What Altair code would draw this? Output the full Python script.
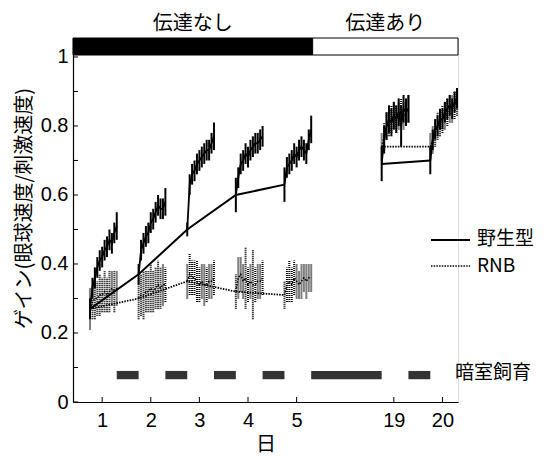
import altair as alt
import pandas as pd

# ---------------- data ----------------
DAY_POS = [1, 2, 3, 4, 5, 7, 8]          # axis positions (break between 5 and 19)
DAY_LABELS = ["1", "2", "3", "4", "5", "19", "20"]
SESSION_START = [0.75, 1.75, 2.75, 3.75, 4.75, 6.75, 7.75]
SESSION_BLOCK = [1, 1, 1, 1, 1, 2, 2]
SESSION_T = [0.00, 0.05, 0.10, 0.15, 0.20, 0.25, 0.30, 0.35, 0.40, 0.45, 0.50, 0.55]

WT_D1 = [0.27, 0.33, 0.36, 0.39, 0.41, 0.42, 0.44, 0.45, 0.47, 0.46, 0.49, 0.51]
WT_D2 = [0.37, 0.44, 0.46, 0.48, 0.49, 0.52, 0.53, 0.55, 0.57, 0.56, 0.56, 0.58]
WT_D3 = [0.50, 0.63, 0.66, 0.67, 0.69, 0.70, 0.71, 0.72, 0.73, 0.73, 0.75, 0.77]
WT_D4 = [0.60, 0.65, 0.69, 0.70, 0.72, 0.71, 0.73, 0.74, 0.75, 0.75, 0.76, 0.77]
WT_D5 = [0.63, 0.68, 0.69, 0.70, 0.72, 0.71, 0.73, 0.74, 0.73, 0.72, 0.76, 0.79]
WT_D19 = [0.69, 0.76, 0.80, 0.82, 0.81, 0.83, 0.82, 0.84, 0.80, 0.85, 0.84, 0.85]
WT_D20 = [0.70, 0.76, 0.79, 0.80, 0.82, 0.82, 0.84, 0.85, 0.86, 0.85, 0.87, 0.88]

WT_E1 = [0.03, 0.03, 0.03, 0.03, 0.03, 0.03, 0.03, 0.03, 0.03, 0.03, 0.03, 0.04]
WT_E2 = [0.03, 0.03, 0.03, 0.03, 0.03, 0.03, 0.03, 0.03, 0.03, 0.03, 0.03, 0.04]
WT_E3 = [0.02, 0.03, 0.03, 0.03, 0.03, 0.03, 0.03, 0.03, 0.03, 0.03, 0.03, 0.04]
WT_E4 = [0.05, 0.03, 0.03, 0.03, 0.03, 0.03, 0.03, 0.03, 0.03, 0.03, 0.03, 0.03]
WT_E5 = [0.05, 0.03, 0.03, 0.03, 0.03, 0.03, 0.03, 0.03, 0.03, 0.03, 0.03, 0.04]
WT_E19 = [0.05, 0.04, 0.04, 0.04, 0.04, 0.04, 0.04, 0.04, 0.06, 0.04, 0.04, 0.04]
WT_E20 = [0.04, 0.03, 0.03, 0.03, 0.03, 0.03, 0.03, 0.03, 0.03, 0.03, 0.03, 0.03]

RNB_D1 = [0.27, 0.29, 0.30, 0.30, 0.31, 0.31, 0.32, 0.31, 0.32, 0.33, 0.32, 0.33]
RNB_D2 = [0.30, 0.31, 0.31, 0.32, 0.32, 0.33, 0.32, 0.33, 0.34, 0.33, 0.34, 0.34]
RNB_D3 = [0.35, 0.37, 0.36, 0.36, 0.35, 0.34, 0.35, 0.34, 0.34, 0.35, 0.35, 0.36]
RNB_D4 = [0.32, 0.36, 0.37, 0.35, 0.36, 0.34, 0.35, 0.34, 0.34, 0.35, 0.35, 0.36]
RNB_D5 = [0.31, 0.34, 0.35, 0.34, 0.36, 0.35, 0.34, 0.35, 0.36, 0.35, 0.36, 0.36]
RNB_D19 = [0.74, 0.77, 0.80, 0.81, 0.82, 0.83, 0.82, 0.83, 0.84, 0.83, 0.84, 0.85]
RNB_D20 = [0.74, 0.76, 0.78, 0.80, 0.81, 0.82, 0.83, 0.84, 0.85, 0.85, 0.86, 0.87]

RNB_E1 = [0.06, 0.05, 0.06, 0.05, 0.06, 0.05, 0.06, 0.05, 0.06, 0.05, 0.06, 0.05]
RNB_E2 = [0.06, 0.06, 0.07, 0.06, 0.06, 0.07, 0.06, 0.06, 0.07, 0.06, 0.06, 0.05]
RNB_E3 = [0.05, 0.06, 0.05, 0.05, 0.06, 0.05, 0.05, 0.06, 0.05, 0.05, 0.05, 0.05]
RNB_E4 = [0.05, 0.06, 0.05, 0.05, 0.09, 0.05, 0.05, 0.10, 0.05, 0.05, 0.05, 0.05]
RNB_E5 = [0.04, 0.05, 0.06, 0.05, 0.05, 0.05, 0.04, 0.05, 0.04, 0.05, 0.04, 0.04]
RNB_E19 = [0.04, 0.04, 0.04, 0.04, 0.04, 0.04, 0.04, 0.04, 0.04, 0.04, 0.04, 0.04]
RNB_E20 = [0.04, 0.04, 0.04, 0.04, 0.04, 0.04, 0.04, 0.04, 0.04, 0.04, 0.04, 0.04]

WT_SESSIONS = [WT_D1, WT_D2, WT_D3, WT_D4, WT_D5, WT_D19, WT_D20]
WT_ERRORS = [WT_E1, WT_E2, WT_E3, WT_E4, WT_E5, WT_E19, WT_E20]
RNB_SESSIONS = [RNB_D1, RNB_D2, RNB_D3, RNB_D4, RNB_D5, RNB_D19, RNB_D20]
RNB_ERRORS = [RNB_E1, RNB_E2, RNB_E3, RNB_E4, RNB_E5, RNB_E19, RNB_E20]

DARK_START = [1.30, 2.30, 3.30, 4.30, 5.30, 7.30]
DARK_END = [1.75, 2.75, 3.75, 4.75, 6.75, 7.75]

PHASE_LABELS = ["伝達なし", "伝達あり"]
PHASE_START = [0.40, 5.33]
PHASE_END = [5.33, 8.32]

Y_TICKS = [0, 0.1, 0.2, 0.3, 0.4, 0.5, 0.6, 0.7, 0.8, 0.9, 1.0]

# ---------------- tables ----------------
rows = []
for grp, sess, errs in (("WT", WT_SESSIONS, WT_ERRORS), ("RNB", RNB_SESSIONS, RNB_ERRORS)):
    for i, (vals, es) in enumerate(zip(sess, errs)):
        for t, v, e in zip(SESSION_T, vals, es):
            rows.append({"grp": grp, "sess": i, "block": SESSION_BLOCK[i],
                         "x": SESSION_START[i] + t, "y": v, "lo": v - e, "hi": v + e,
                         "first": t == 0})
df = pd.DataFrame(rows)
starts = df[df["first"]]

dark = pd.DataFrame({"x": DARK_START, "x2": DARK_END})
phase = pd.DataFrame({"label": PHASE_LABELS, "x": PHASE_START, "x2": PHASE_END,
                      "kind": ["off", "on"]})
dayticks = pd.DataFrame({"x": DAY_POS})
yticks = pd.DataFrame({"y": Y_TICKS})

W, H = 385, 364
FONT = "Liberation Sans"
JFONT = "Noto Sans CJK JP"

label_expr = " : ".join(
    f"datum.value == {p} ? '{l}'" for p, l in zip(DAY_POS, DAY_LABELS)) + " : ''"

XS = alt.Scale(domain=[0.4, 8.32], nice=False, zero=False)
YS = alt.Scale(domain=[0, 1.055], nice=False, zero=False)
XA = alt.Axis(values=DAY_POS, labelExpr=label_expr, ticks=False, grid=False,
              domainColor="black", domainWidth=1.2, labelFont=FONT, labelFontSize=20,
              labelColor="black", labelPadding=8, title="日", titleFont=JFONT,
              titleFontSize=20, titleFontWeight="normal", titleColor="black",
              titlePadding=4)
YA = alt.Axis(values=Y_TICKS, ticks=False, grid=False,
              labelExpr="round(datum.value*10) % 2 == 0 ? format(datum.value, '~g') : ''",
              domainColor="black", domainWidth=1.2, labelFont=FONT, labelFontSize=20,
              labelColor="black", labelPadding=5, title="ゲイン(眼球速度/刺激速度)",
              titleFont=JFONT, titleFontSize=20, titleFontWeight="normal",
              titleColor="black", titleX=-49, titleY=170, titleBaseline="middle")


def X(f="x"):
    return alt.X(f"{f}:Q", scale=XS, axis=XA)


def Y(f="y"):
    return alt.Y(f"{f}:Q", scale=YS, axis=YA)


base = alt.Chart(df)

rnb_err = base.transform_filter("datum.grp == 'RNB'").mark_rule(
    color="black", strokeWidth=2, strokeDash=[1, 1]).encode(x=X(), y=Y("lo"), y2="hi")
rnb_line = base.transform_filter("datum.grp == 'RNB'").mark_line(
    color="black", strokeWidth=1.5, strokeDash=[1.5, 1.5]).encode(x=X(), y=Y(), detail="sess:N")
rnb_days = alt.Chart(starts).transform_filter("datum.grp == 'RNB'").mark_line(
    color="black", strokeWidth=1.8, strokeDash=[1.5, 1.2]).encode(x=X(), y=Y(), detail="block:N")

wt_err = base.transform_filter("datum.grp == 'WT'").mark_rule(
    color="black", strokeWidth=2).encode(x=X(), y=Y("lo"), y2="hi")
wt_line = base.transform_filter("datum.grp == 'WT'").mark_line(
    color="black", strokeWidth=1.8).encode(x=X(), y=Y(), detail="sess:N")
wt_days = alt.Chart(starts).transform_filter("datum.grp == 'WT'").mark_line(
    color="black", strokeWidth=2).encode(x=X(), y=Y(), detail="block:N")

dark_bars = alt.Chart(dark).mark_rect(color="#333333").encode(
    x=X(), x2="x2", y=alt.value(H - 0.09 / 1.055 * H), y2=alt.value(H - 0.066 / 1.055 * H))

phase_bar = alt.Chart(phase).mark_rect(stroke="black", strokeWidth=1).encode(
    x=X(), x2="x2", y=alt.value(0), y2=alt.value(17),
    fill=alt.Fill("kind:N", scale=alt.Scale(domain=["off", "on"], range=["black", "white"]),
                  legend=None))
phase_text = alt.Chart(phase).transform_calculate(xc="(datum.x + datum.x2) / 2").mark_text(
    font=JFONT, fontSize=20, color="black", baseline="middle").encode(
    x=X("xc"), y=alt.value(-14), text="label:N")

xtick_marks = alt.Chart(dayticks).mark_rule(color="black", strokeWidth=1).encode(
    x=X(), y=alt.value(H), y2=alt.value(H - 5))
ytick_marks = alt.Chart(yticks).mark_rule(color="black", strokeWidth=1).encode(
    y=Y(), x=alt.value(0), x2=alt.value(5))

# legend (annotation)
leg_wt = alt.Chart(dayticks.head(1)).mark_rule(color="black", strokeWidth=1.8).encode(
    x=alt.value(358), x2=alt.value(397), y=alt.value(202))
leg_rnb = alt.Chart(dayticks.head(1)).mark_rule(
    color="black", strokeWidth=1.5, strokeDash=[1.5, 1.2]).encode(
    x=alt.value(358), x2=alt.value(397), y=alt.value(228))
leg_txt = alt.Chart(pd.DataFrame({"t": ["野生型", "RNB", "暗室飼育"],
                                  "px": [404, 404, 382], "py": [201, 228, 335]})).mark_text(
    font=JFONT, fontSize=19, color="black", align="left", baseline="middle").encode(
    x=alt.X("px:Q", scale=None), y=alt.Y("py:Q", scale=None), text="t:N")

chart = alt.layer(
    dark_bars, rnb_err, rnb_line, rnb_days, wt_err, wt_line, wt_days,
    xtick_marks, ytick_marks, phase_bar, phase_text, leg_wt, leg_rnb, leg_txt
).properties(
    width=W, height=H,
    autosize=alt.AutoSizeParams(type="none"),
    padding={"left": 65, "top": 30, "right": 81, "bottom": 60},
).configure_view(stroke=None).configure(background="white")

chart.save("out.html", embed_options={"renderer": "svg", "actions": False})
